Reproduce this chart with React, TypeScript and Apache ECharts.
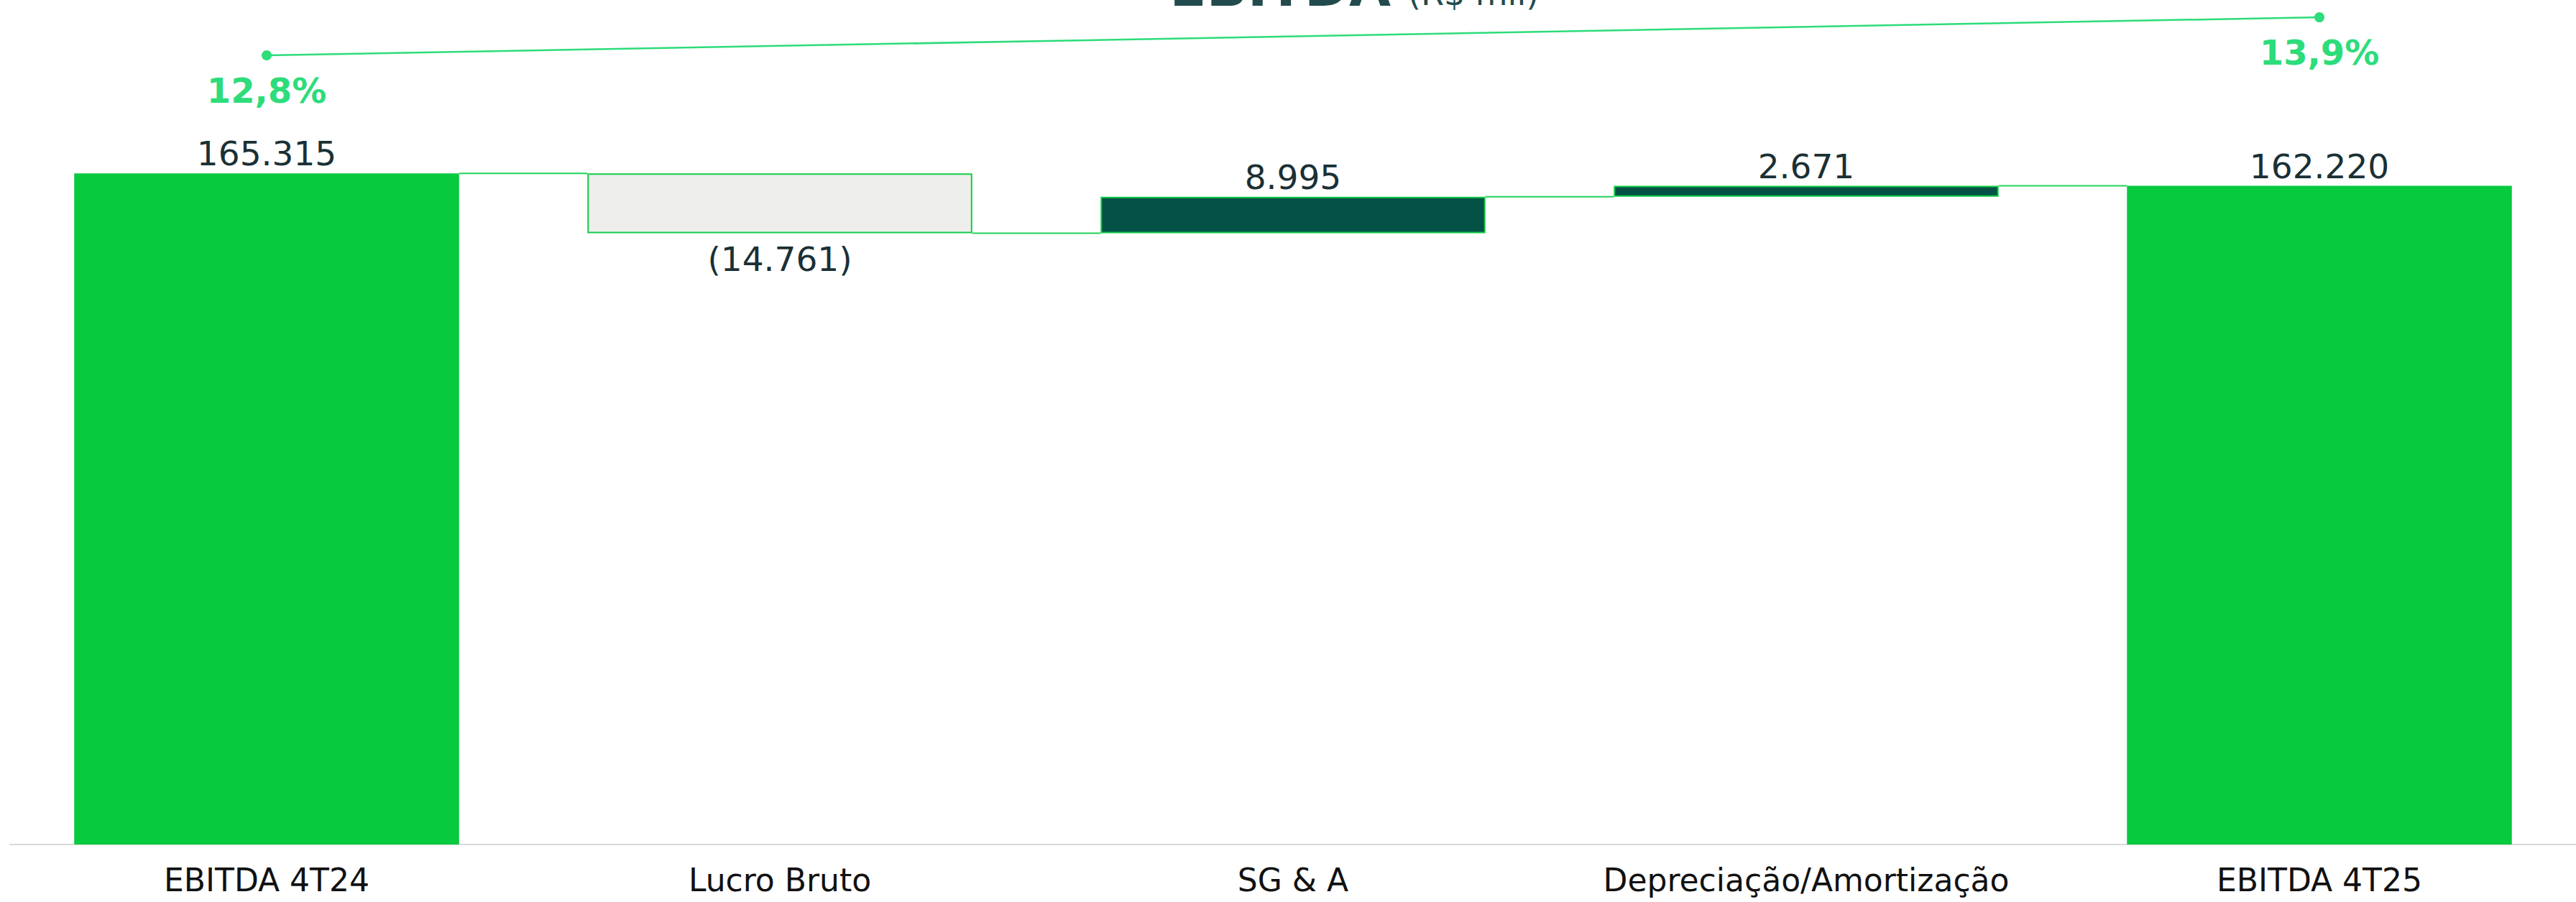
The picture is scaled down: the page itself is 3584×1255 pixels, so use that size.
import React, { useEffect, useRef } from "react";
import * as echarts from "echarts";

const categories = ["EBITDA 4T24", "Lucro Bruto", "SG & A", "Depreciação/Amortização", "EBITDA 4T25"];
const values = [165315, -14761, 8995, 2671, 162220];
const kinds = ["total", "delta", "delta", "delta", "total"];
const margins: (number | null)[] = [12.8, null, null, null, 13.9];
const titleMain = "EBITDA";
const titleUnit = "(R$ mil)";

const GREEN = "#07CA3F";
const LINE_GREEN = "#2DDC7A";
const BORDER_GREEN = "#10CC46";
const GREY = "#EEEEEC";
const DARK = "#045245";
const TEXT = "#1A3035";
const FONT = "'DejaVu Sans', sans-serif";

function fmt(v: number): string {
  const s = String(Math.abs(v)).replace(/\B(?=(\d{3})+(?!\d))/g, ".");
  return v < 0 ? "(" + s + ")" : s;
}

export default function App() {
  const ref = useRef<HTMLDivElement>(null);
  useEffect(() => {
    if (!ref.current) return;
    const chart = echarts.init(ref.current, null, { renderer: "svg" });

    const bases: number[] = [];
    const heights: number[] = [];
    const levels: number[] = [];
    let running = 0;
    values.forEach((v, i) => {
      if (kinds[i] === "total") {
        bases.push(0);
        heights.push(v);
        running = v;
      } else if (v >= 0) {
        bases.push(running);
        heights.push(v);
        running += v;
      } else {
        bases.push(running + v);
        heights.push(-v);
        running += v;
      }
      levels.push(running);
    });

    const barData = heights.map((h, i) => {
      const isTotal = kinds[i] === "total";
      const neg = values[i] < 0;
      return {
        value: h,
        itemStyle: isTotal
          ? { color: GREEN, borderWidth: 0 }
          : { color: neg ? GREY : DARK, borderColor: BORDER_GREEN, borderWidth: 2 },
        label: {
          show: true,
          position: neg ? "bottom" : "top",
          distance: neg ? 12 : 4,
          formatter: () => fmt(values[i]),
        },
      };
    });

    const connectorData = levels.slice(0, levels.length - 1).map((lv, i) => [i, lv]);

    chart.setOption({
      animation: false,
      backgroundColor: "#ffffff",
      grid: { left: 14, right: 0, top: 0, bottom: 80, containLabel: false },
      xAxis: {
        type: "category",
        data: categories,
        axisLine: { show: true, lineStyle: { color: "#D9D9D9", width: 2 } },
        axisTick: { show: false },
        axisLabel: { interval: 0, color: "#111111", fontSize: 44, fontFamily: FONT, margin: 27 },
      },
      yAxis: [
        { type: "value", min: 0, max: 208000, show: false },
        { type: "value", min: -10, max: 14.4, show: false },
      ],
      graphic: [
        {
          type: "text",
          x: 1935,
          y: -18,
          style: {
            text: titleMain,
            font: "bold 75px " + FONT,
            fill: "#234B4E",
            align: "right",
            verticalAlign: "middle",
          },
        },
        {
          type: "text",
          x: 1959,
          y: -9,
          style: {
            text: titleUnit,
            font: "46px " + FONT,
            fill: "#234B4E",
            align: "left",
            verticalAlign: "middle",
          },
        },
      ],
      series: [
        {
          type: "custom",
          z: 1,
          silent: true,
          data: connectorData,
          encode: { x: 0, y: 1 },
          renderItem: (params: any, api: any) => {
            const i = api.value(0);
            const lv = api.value(1);
            const bw = api.size([1, 0])[0] * 0.75;
            const p1 = api.coord([i, lv]);
            const p2 = api.coord([i + 1, lv]);
            return {
              type: "line",
              shape: { x1: p1[0] + bw / 2, y1: p1[1], x2: p2[0] - bw / 2, y2: p2[1] },
              style: { stroke: "#22D35A", lineWidth: 2 },
            };
          },
        },
        {
          type: "bar",
          stack: "wf",
          z: 2,
          barCategoryGap: "25%",
          data: bases,
          itemStyle: { color: "transparent" },
          silent: true,
        },
        {
          type: "bar",
          stack: "wf",
          z: 2,
          barCategoryGap: "25%",
          data: barData,
          label: { color: TEXT, fontSize: 47, fontFamily: FONT },
        },
        {
          type: "line",
          yAxisIndex: 1,
          z: 3,
          data: margins,
          connectNulls: true,
          symbol: "circle",
          symbolSize: 14,
          itemStyle: { color: LINE_GREEN },
          lineStyle: { color: LINE_GREEN, width: 2.5 },
          label: {
            show: true,
            position: "bottom",
            distance: 18,
            color: LINE_GREEN,
            fontSize: 48,
            fontWeight: "bold",
            fontFamily: FONT,
            formatter: (p: any) => (p.value == null ? "" : p.value.toFixed(1).replace(".", ",") + "%"),
          },
        },
      ],
    });
    return () => chart.dispose();
  }, []);
  return (
    <div
      ref={ref}
      style={{ position: "absolute", left: 0, top: 0, width: 3584, height: 1255 }}
    />
  );
}
